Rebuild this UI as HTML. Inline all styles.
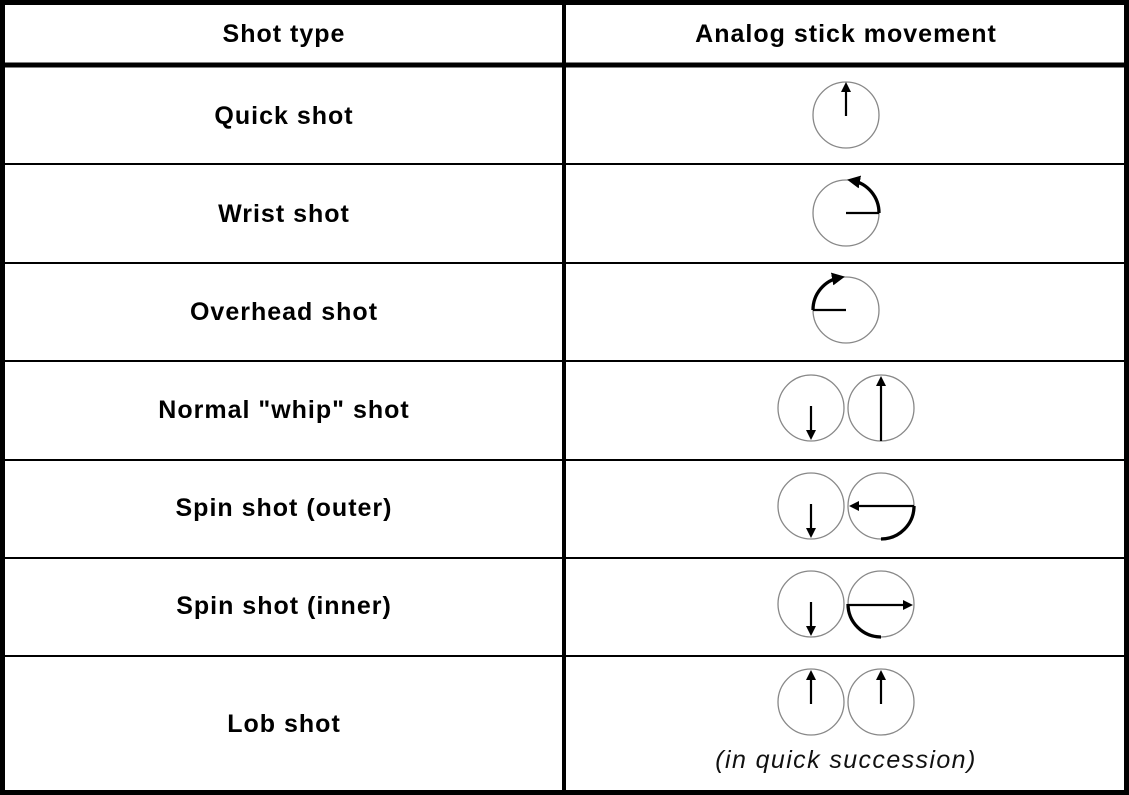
<!DOCTYPE html>
<html><head><meta charset="utf-8"><style>
html,body{margin:0;padding:0;background:#fff}
svg{display:block}
.h{font-family:"Liberation Sans",sans-serif;font-weight:bold;font-size:25px;letter-spacing:1px;fill:#000}
.it{font-family:"Liberation Sans",sans-serif;font-style:italic;font-size:25px;letter-spacing:1.4px;fill:#111}
.c{fill:none;stroke:#888;stroke-width:1.3}
.s{fill:none;stroke:#000;stroke-width:2.2}
.a{fill:none;stroke:#000;stroke-width:3.3}
</style></head><body>
<svg width="1129" height="795" viewBox="0 0 1129 795">
<defs><marker id="ar" markerWidth="10" markerHeight="10" refX="7" refY="5" orient="auto" markerUnits="userSpaceOnUse"><path d="M0,0 L10,5 L0,10 z" fill="#000"/></marker>
<marker id="ar2" markerWidth="13" markerHeight="13" refX="8" refY="6.5" orient="auto" markerUnits="userSpaceOnUse"><path d="M0,0 L13,6.5 L0,13 z" fill="#000"/></marker></defs>
<rect x="0" y="0" width="1129" height="795" fill="#fff"/>
<g>
<rect x="2.5" y="2.5" width="1124" height="790" fill="none" stroke="#000" stroke-width="5"/>
<line x1="0" y1="65" x2="1129" y2="65" stroke="#000" stroke-width="5"/>
<line x1="564" y1="0" x2="564" y2="795" stroke="#000" stroke-width="4"/>
<line x1="0" y1="164" x2="1129" y2="164" stroke="#000" stroke-width="2"/>
<line x1="0" y1="263" x2="1129" y2="263" stroke="#000" stroke-width="2"/>
<line x1="0" y1="361" x2="1129" y2="361" stroke="#000" stroke-width="2"/>
<line x1="0" y1="460" x2="1129" y2="460" stroke="#000" stroke-width="2"/>
<line x1="0" y1="558" x2="1129" y2="558" stroke="#000" stroke-width="2"/>
<line x1="0" y1="656" x2="1129" y2="656" stroke="#000" stroke-width="2"/>
</g>
<text class="h" x="284" y="42" text-anchor="middle">Shot type</text>
<text class="h" x="846" y="42" text-anchor="middle">Analog stick movement</text>
<text class="h" x="284" y="124" text-anchor="middle">Quick shot</text>
<text class="h" x="284" y="222" text-anchor="middle">Wrist shot</text>
<text class="h" x="284" y="320" text-anchor="middle">Overhead shot</text>
<text class="h" x="284" y="418" text-anchor="middle">Normal "whip" shot</text>
<text class="h" x="284" y="516" text-anchor="middle">Spin shot (outer)</text>
<text class="h" x="284" y="614" text-anchor="middle">Spin shot (inner)</text>
<text class="h" x="284" y="732" text-anchor="middle">Lob shot</text>

<g>
<circle class="c" cx="846" cy="115" r="33"/>
<line class="s" x1="846" y1="116" x2="846" y2="85" marker-end="url(#ar)"/>
</g>
<g>
<circle class="c" cx="846" cy="213" r="33"/>
<line class="s" x1="846" y1="213" x2="879" y2="213"/>
<path class="a" d="M879,213 A33,33 0 0 0 852,180.5" marker-end="url(#ar2)"/>
</g>
<g>
<circle class="c" cx="846" cy="310" r="33"/>
<line class="s" x1="846" y1="310" x2="813" y2="310"/>
<path class="a" d="M813,310 A33,33 0 0 1 840,277.5" marker-end="url(#ar2)"/>
</g>
<g>
<circle class="c" cx="811" cy="408" r="33"/>
<line class="s" x1="811" y1="406" x2="811" y2="437" marker-end="url(#ar)"/>
<circle class="c" cx="881" cy="408" r="33"/>
<line class="s" x1="881" y1="441" x2="881" y2="379" marker-end="url(#ar)"/>
</g>
<g>
<circle class="c" cx="811" cy="506" r="33"/>
<line class="s" x1="811" y1="504" x2="811" y2="535" marker-end="url(#ar)"/>
<circle class="c" cx="881" cy="506" r="33"/>
<path class="a" d="M881,539 A33,33 0 0 0 914,506"/>
<line class="s" x1="914" y1="506" x2="852" y2="506" marker-end="url(#ar)"/>
</g>
<g>
<circle class="c" cx="811" cy="604" r="33"/>
<line class="s" x1="811" y1="602" x2="811" y2="633" marker-end="url(#ar)"/>
<circle class="c" cx="881" cy="604" r="33"/>
<path class="a" d="M848,604 A33,33 0 0 0 881,637"/>
<line class="s" x1="848" y1="605" x2="910" y2="605" marker-end="url(#ar)"/>
</g>
<g>
<circle class="c" cx="811" cy="702" r="33"/>
<line class="s" x1="811" y1="704" x2="811" y2="673" marker-end="url(#ar)"/>
<circle class="c" cx="881" cy="702" r="33"/>
<line class="s" x1="881" y1="704" x2="881" y2="673" marker-end="url(#ar)"/>
</g>
<text class="it" x="846" y="768" text-anchor="middle">(in quick succession)</text>
</svg>
</body></html>
